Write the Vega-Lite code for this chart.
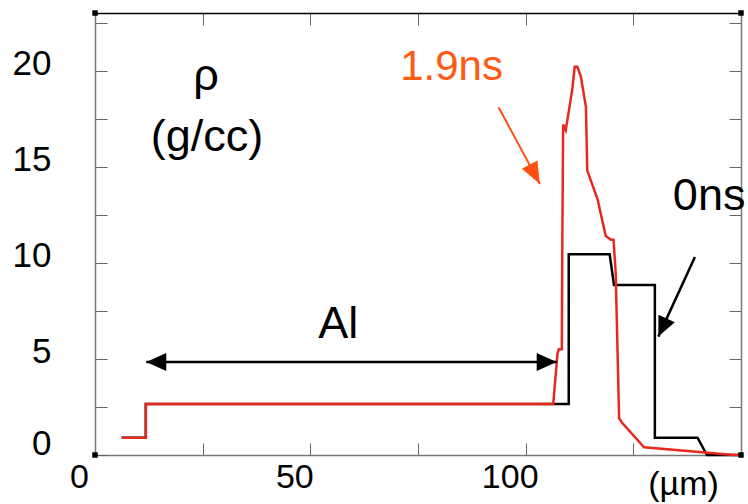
{
  "$schema": "https://vega.github.io/schema/vega-lite/v6.json",
  "width": 646,
  "height": 442,
  "autosize": "none",
  "padding": {"left": 95, "top": 13, "right": 7, "bottom": 49},
  "background": "white",
  "config": {"view": {"stroke": null}, "font": "Liberation Sans"},
  "datasets": {
    "profiles": [
      {"series": "0ns", "i": 1, "x": 6.2, "y": 0.9},
      {"series": "0ns", "i": 2, "x": 11.8, "y": 0.9},
      {"series": "0ns", "i": 3, "x": 11.8, "y": 2.65},
      {"series": "0ns", "i": 4, "x": 110.0, "y": 2.65},
      {"series": "0ns", "i": 5, "x": 110.0, "y": 10.45},
      {"series": "0ns", "i": 6, "x": 119.5, "y": 10.45},
      {"series": "0ns", "i": 7, "x": 120.5, "y": 8.85},
      {"series": "0ns", "i": 8, "x": 130.0, "y": 8.85},
      {"series": "0ns", "i": 9, "x": 130.0, "y": 0.9},
      {"series": "0ns", "i": 10, "x": 139.9, "y": 0.9},
      {"series": "0ns", "i": 11, "x": 142.1, "y": 0.0},
      {"series": "0ns", "i": 12, "x": 150.0, "y": 0.0},
      {"series": "1.9ns", "i": 1, "x": 6.2, "y": 0.9},
      {"series": "1.9ns", "i": 2, "x": 11.8, "y": 0.9},
      {"series": "1.9ns", "i": 3, "x": 11.8, "y": 2.65},
      {"series": "1.9ns", "i": 4, "x": 106.4, "y": 2.65},
      {"series": "1.9ns", "i": 5, "x": 107.4, "y": 5.3},
      {"series": "1.9ns", "i": 6, "x": 107.7, "y": 5.5},
      {"series": "1.9ns", "i": 7, "x": 108.4, "y": 5.5},
      {"series": "1.9ns", "i": 8, "x": 108.5, "y": 10.5},
      {"series": "1.9ns", "i": 9, "x": 108.7, "y": 17.2},
      {"series": "1.9ns", "i": 10, "x": 109.3, "y": 16.9},
      {"series": "1.9ns", "i": 11, "x": 110.1, "y": 18.0},
      {"series": "1.9ns", "i": 12, "x": 110.8, "y": 19.0},
      {"series": "1.9ns", "i": 13, "x": 111.4, "y": 20.2},
      {"series": "1.9ns", "i": 14, "x": 112.0, "y": 20.2},
      {"series": "1.9ns", "i": 15, "x": 112.8, "y": 19.7},
      {"series": "1.9ns", "i": 16, "x": 114.0, "y": 18.1},
      {"series": "1.9ns", "i": 17, "x": 114.3, "y": 14.8},
      {"series": "1.9ns", "i": 18, "x": 116.7, "y": 13.3},
      {"series": "1.9ns", "i": 19, "x": 118.6, "y": 11.4},
      {"series": "1.9ns", "i": 20, "x": 119.8, "y": 11.2},
      {"series": "1.9ns", "i": 21, "x": 120.4, "y": 11.2},
      {"series": "1.9ns", "i": 22, "x": 120.9, "y": 9.5},
      {"series": "1.9ns", "i": 23, "x": 121.7, "y": 1.9},
      {"series": "1.9ns", "i": 24, "x": 122.5, "y": 1.65},
      {"series": "1.9ns", "i": 25, "x": 127.5, "y": 0.4},
      {"series": "1.9ns", "i": 26, "x": 148.4, "y": 0.0},
      {"series": "1.9ns", "i": 27, "x": 150.0, "y": 0.0}
    ],
    "arrows": [
      {"arrow": "Al", "x": 11.9, "y": 4.84, "x2": 107.2, "y2": 4.84},
      {"arrow": "1.9ns", "x": 93.7, "y": 18.1, "x2": 103.3, "y2": 14.1},
      {"arrow": "0ns", "x": 139.3, "y": 10.3, "x2": 130.8, "y2": 6.16}
    ],
    "heads": [
      {"head": "left", "x": 11.9, "y": 4.84},
      {"head": "right", "x": 107.2, "y": 4.84},
      {"head": "orange", "x": 103.3, "y": 14.1},
      {"head": "black", "x": 130.8, "y": 6.16}
    ],
    "texts": [
      {"label": "ρ", "x": 25.8, "y": 19.0},
      {"label": "(g/cc)", "x": 26.0, "y": 15.8},
      {"label": "Al", "x": 56.5, "y": 6.09},
      {"label": "0ns", "x": 142.6, "y": 12.76}
    ],
    "orangeText": [
      {"label": "1.9ns", "x": 82.8, "y": 19.53}
    ],
    "corners": [
      {"x": 0, "y": 0}, {"x": 150, "y": 0}, {"x": 0, "y": 23}, {"x": 150, "y": 23}
    ]
  },
  "layer": [
    {
      "data": {"name": "profiles"},
      "transform": [{"filter": "datum.series == '0ns'"}],
      "mark": {"type": "line", "color": "#000000", "strokeWidth": 2.5},
      "encoding": {
        "x": {"field": "x", "type": "quantitative", "scale": {"domain": [0, 150], "nice": false, "zero": false},
          "axis": {"orient": "top", "values": [0, 25, 50, 75, 100, 125, 150], "labels": false, "tickSize": -12, "tickColor": "#666666", "domainColor": "#000000", "domainWidth": 1.5, "grid": false, "title": null}},
        "y": {"field": "y", "type": "quantitative", "scale": {"domain": [0, 23], "nice": false, "zero": false},
          "axis": {"orient": "right", "values": [0, 2.5, 5, 7.5, 10, 12.5, 15, 17.5, 20, 22.5], "labels": false, "tickSize": -12, "tickColor": "#666666", "domainColor": "#777777", "domainWidth": 1.5, "grid": false, "title": null}},
        "order": {"field": "i", "type": "quantitative"}
      }
    },
    {
      "data": {"name": "profiles"},
      "transform": [{"filter": "datum.series == '1.9ns'"}],
      "mark": {"type": "line", "color": "#e8281e", "strokeWidth": 2.5},
      "encoding": {
        "x": {"field": "x", "type": "quantitative",
          "axis": {"orient": "bottom", "values": [0, 25, 50, 75, 100, 125, 150], "labelExpr": "datum.value % 50 == 0 && datum.value < 150 ? datum.label : ''", "tickSize": -12, "tickColor": "#666666", "domainColor": "#777777", "domainWidth": 1.5, "grid": false, "labelFontSize": 34, "labelColor": "#000000", "labelOffset": -16, "labelPadding": 17, "labelOverlap": false, "labelFlush": false, "title": "(µm)", "titleFontSize": 34, "titleFontWeight": "normal", "titleColor": "#000000", "titleX": 588, "titleY": 29, "titleAlign": "center", "titleBaseline": "middle"}},
        "y": {"field": "y", "type": "quantitative",
          "axis": {"orient": "left", "values": [0, 2.5, 5, 7.5, 10, 12.5, 15, 17.5, 20, 22.5], "labelExpr": "datum.value % 5 == 0 ? datum.label : ''", "tickSize": -12, "tickColor": "#666666", "domainColor": "#777777", "domainWidth": 1.5, "grid": false, "labelFontSize": 35, "labelColor": "#000000", "labelOffset": {"condition": {"test": "datum.value == 0", "value": -12}, "value": -7}, "labelPadding": 56, "labelOverlap": false, "labelFlush": false, "title": null}},
        "order": {"field": "i", "type": "quantitative"}
      }
    },
    {
      "data": {"name": "arrows"},
      "transform": [{"filter": "datum.arrow != '1.9ns'"}],
      "mark": {"type": "rule", "color": "#000000", "strokeWidth": 2.5},
      "encoding": {
        "x": {"field": "x", "type": "quantitative", "axis": null},
        "y": {"field": "y", "type": "quantitative", "axis": null},
        "x2": {"field": "x2"},
        "y2": {"field": "y2"}
      }
    },
    {
      "data": {"name": "arrows"},
      "transform": [{"filter": "datum.arrow == '1.9ns'"}],
      "mark": {"type": "rule", "color": "#ff5010", "strokeWidth": 2},
      "encoding": {
        "x": {"field": "x", "type": "quantitative", "axis": null},
        "y": {"field": "y", "type": "quantitative", "axis": null},
        "x2": {"field": "x2"},
        "y2": {"field": "y2"}
      }
    },
    {
      "data": {"name": "heads"},
      "transform": [{"filter": "datum.head == 'left'"}],
      "mark": {"type": "point", "shape": "M0,0L0.9,2L-0.9,2Z", "angle": 270, "size": 400, "filled": true, "color": "#000000", "opacity": 1},
      "encoding": {
        "x": {"field": "x", "type": "quantitative", "axis": null},
        "y": {"field": "y", "type": "quantitative", "axis": null}
      }
    },
    {
      "data": {"name": "heads"},
      "transform": [{"filter": "datum.head == 'right'"}],
      "mark": {"type": "point", "shape": "M0,0L0.9,2L-0.9,2Z", "angle": 90, "size": 400, "filled": true, "color": "#000000", "opacity": 1},
      "encoding": {
        "x": {"field": "x", "type": "quantitative", "axis": null},
        "y": {"field": "y", "type": "quantitative", "axis": null}
      }
    },
    {
      "data": {"name": "heads"},
      "transform": [{"filter": "datum.head == 'black'"}],
      "mark": {"type": "point", "shape": "M0,0L0.9,2L-0.9,2Z", "angle": 204.5, "size": 400, "filled": true, "color": "#000000", "opacity": 1},
      "encoding": {
        "x": {"field": "x", "type": "quantitative", "axis": null},
        "y": {"field": "y", "type": "quantitative", "axis": null}
      }
    },
    {
      "data": {"name": "heads"},
      "transform": [{"filter": "datum.head == 'orange'"}],
      "mark": {"type": "point", "shape": "M0,0L0.8,2L-0.8,2Z", "angle": 152.3, "size": 484, "filled": true, "color": "#ff5010", "opacity": 1},
      "encoding": {
        "x": {"field": "x", "type": "quantitative", "axis": null},
        "y": {"field": "y", "type": "quantitative", "axis": null}
      }
    },
    {
      "data": {"name": "texts"},
      "mark": {"type": "text", "fontSize": 45, "color": "#000000", "align": "center", "baseline": "alphabetic"},
      "encoding": {
        "x": {"field": "x", "type": "quantitative", "axis": null},
        "y": {"field": "y", "type": "quantitative", "axis": null},
        "text": {"field": "label"}
      }
    },
    {
      "data": {"name": "orangeText"},
      "mark": {"type": "text", "fontSize": 42, "color": "#ff5a14", "align": "center", "baseline": "alphabetic"},
      "encoding": {
        "x": {"field": "x", "type": "quantitative", "axis": null},
        "y": {"field": "y", "type": "quantitative", "axis": null},
        "text": {"field": "label"}
      }
    },
    {
      "data": {"name": "corners"},
      "mark": {"type": "point", "shape": "square", "size": 30, "filled": true, "color": "#000000", "opacity": 1, "clip": false},
      "encoding": {
        "x": {"field": "x", "type": "quantitative", "axis": null},
        "y": {"field": "y", "type": "quantitative", "axis": null}
      }
    }
  ],
  "resolve": {"axis": {"x": "independent", "y": "independent"}}
}
